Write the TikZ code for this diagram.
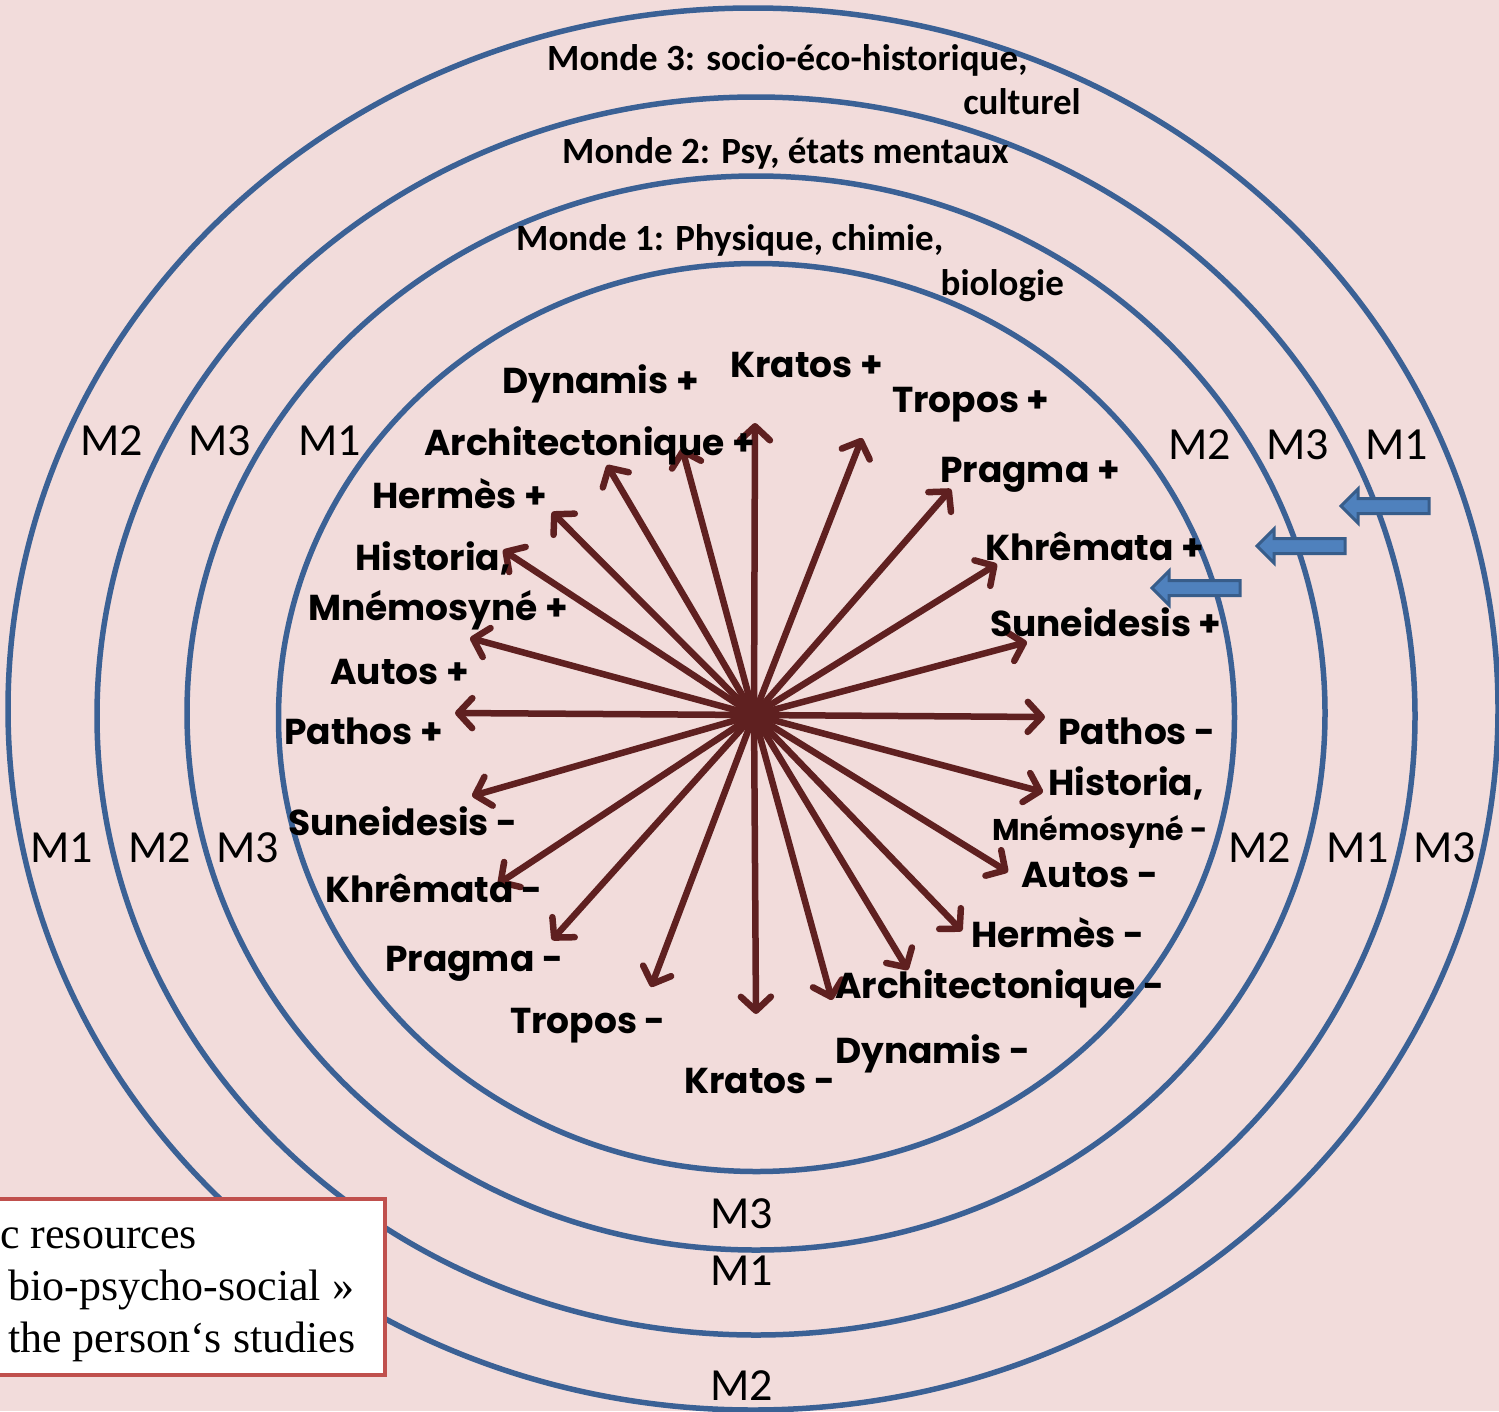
\documentclass[tikz,border=0pt]{standalone}
\usepackage{fontspec}
\setmainfont{Carlito}
\newfontfamily\labfont{Poppins}
\newfontfamily\mfont{Carlito}
\newfontfamily\boxfont{Liberation Serif}
\usetikzlibrary{arrows.meta}
\definecolor{bg}{HTML}{F2DCDB}
\definecolor{ringc}{HTML}{3B6195}
\definecolor{arrc}{HTML}{5F2020}
\definecolor{barfill}{HTML}{4F81BD}
\definecolor{bardraw}{HTML}{385D8A}
\definecolor{boxred}{HTML}{C0504D}
\begin{document}
\begin{tikzpicture}[x=1pt,y=-1pt,
  ring/.style={draw=ringc,line width=5.5pt},
  spoke/.style={draw=arrc,line width=6.5pt,-{Straight Barb[length=14pt,width=30pt,round]}},
  lab/.style={anchor=base west,inner sep=0pt,font=\labfont\bfseries\fontsize{36}{40}\selectfont},
  mlab/.style={anchor=base west,inner sep=0pt,font=\mfont\fontsize{46}{48}\selectfont},
  monde/.style={anchor=base west,inner sep=0pt,font=\mfont\bfseries\fontsize{37}{40}\selectfont},
  boxtext/.style={anchor=base west,inner sep=0pt,font=\boxfont\fontsize{44}{46}\selectfont},
  barrow/.pic={\draw[fill=barfill,draw=bardraw,line width=3pt,line join=miter]
     (0,0) -- (17,-17) -- (17,-7.5) -- (88,-7.5) -- (88,7.5) -- (17,7.5) -- (17,17) -- cycle;}
  ]
\useasboundingbox (0,0) rectangle (1499,1411);
\fill[bg] (0,0) rectangle (1499,1411);
% rings
\draw[ring] (753,709) ellipse [x radius=745, y radius=701];
\draw[ring] (756,716) ellipse [x radius=659, y radius=619];
\draw[ring] (756,713) ellipse [x radius=569, y radius=537];
\draw[ring] (756.5,717.5) ellipse [x radius=478, y radius=454];
% world labels
\node[monde] (m3a) at (547,70) {Monde 3: socio-éco-historique,};
\node[monde,anchor=base east] (m3b) at (1081,114) {culturel};
\node[monde] (m2a) at (562,163) {Monde 2: Psy, états mentaux};
\node[monde] (m1a) at (516,250) {Monde 1: Physique, chimie,};
\node[monde,anchor=base east] (m1b) at (1064,295) {biologie};
% M labels
\node[mlab] (tl1) at (80,455) {M2};
\node[mlab] (tl2) at (188,455) {M3};
\node[mlab] (tl3) at (298,455) {M1};
\node[mlab] (tr1) at (1168,459) {M2};
\node[mlab] (tr2) at (1266,459) {M3};
\node[mlab] (tr3) at (1365,459) {M1};
\node[mlab] (bl1) at (30,862) {M1};
\node[mlab] (bl2) at (128,862) {M2};
\node[mlab] (bl3) at (216,862) {M3};
\node[mlab] (br1) at (1228,862) {M2};
\node[mlab] (br2) at (1326,862) {M1};
\node[mlab] (br3) at (1413,862) {M3};
\node[mlab] (bc1) at (710,1228) {M3};
\node[mlab] (bc2) at (710,1285) {M1};
\node[mlab] (bc3) at (710,1400) {M2};
% spokes
\coordinate (c) at (754,715);
\foreach \n/\x/\y in {a/755/423, b/862/438, d/951/489, e/997/564, f/1027/642,
  g/1045/717, h/1043/792, i/1008/872, j/962/931, k/908/970, l/832/1000,
  m/756/1014, n/651/987, o/552/940, p/498/884, q/472/796, r/455/713,
  s/470/638, t/503/550, u/552/512, v/607/465, w/682/448}
  {\coordinate (t\n) at (\x,\y); \draw[spoke] (c) -- (t\n);}
% spoke labels
\node[lab] (l1) at (502,393) {Dynamis +};
\node[lab] (l2) at (730,377) {Kratos +};
\node[lab] (l3) at (892,412) {Tropos +};
\node[lab] (l4) at (424,455) {Architectonique +};
\node[lab] (l5) at (940,482) {Pragma +};
\node[lab] (l6) at (372,508) {Hermès +};
\node[lab] (l7) at (985,560) {Khrêmata +};
\node[lab] (l8) at (355,570) {Historia,};
\node[lab] (l9) at (308,620) {Mnémosyné +};
\node[lab] (l10) at (990,636) {Suneidesis +};
\node[lab] (l11) at (330,684) {Autos +};
\node[lab] (l12) at (284,744) {Pathos +};
\node[lab] (r1) at (1058,744) {Pathos -};
\node[lab] (r2) at (1048,795) {Historia,};
\node[lab,font=\labfont\bfseries\fontsize{30}{34}\selectfont] (r3) at (992,840) {Mnémosyné -};
\node[lab] (r4) at (1021,887) {Autos -};
\node[lab] (r5) at (288,835) {Suneidesis -};
\node[lab] (r6) at (325,902) {Khrêmata -};
\node[lab] (r7) at (971,947) {Hermès -};
\node[lab] (r8) at (385,971) {Pragma -};
\node[lab] (r9) at (835,998) {Architectonique -};
\node[lab] (r10) at (510,1033) {Tropos -};
\node[lab] (r11) at (835,1063) {Dynamis -};
\node[lab] (r12) at (684,1093) {Kratos -};
% blue arrows
\pic at (1341,506) {barrow};
\pic at (1257,546) {barrow};
\pic at (1152,588) {barrow};
% box
\draw[draw=boxred,line width=4pt,fill=white] (-10,1199) rectangle (385,1375);
\node[boxtext] (x1) at (0,1248) {c resources};
\node[boxtext] (x2) at (8,1300) {bio-psycho-social »};
\node[boxtext] (x3) at (8,1352) {the person‘s studies};
\end{tikzpicture}
\end{document}
